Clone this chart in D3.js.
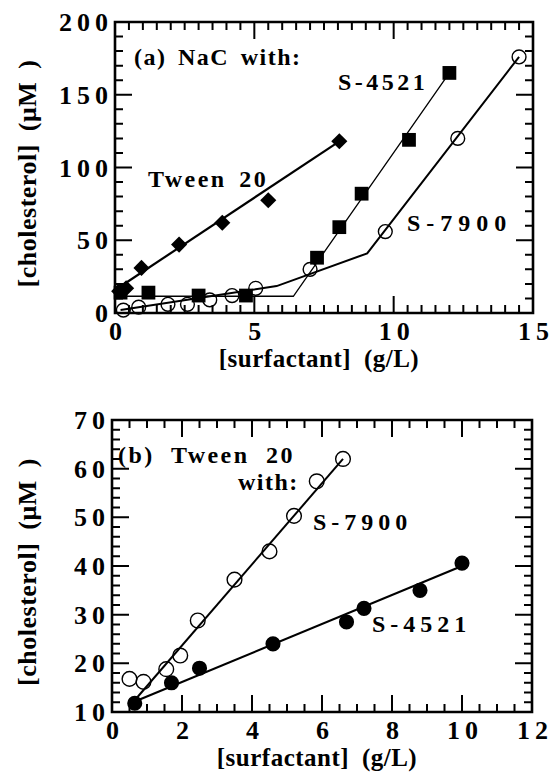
<!DOCTYPE html>
<html>
<head>
<meta charset="utf-8">
<script src="https://cdn.jsdelivr.net/npm/d3@7"></script>
<style>
  body { margin: 0; background: #fff; }
  svg text { font-family: "Liberation Serif", "DejaVu Serif", serif; font-weight: bold; fill: #000; }
</style>
</head>
<body>
<div class="figure"></div>
<script>
// panel (a): NaC with surfactants
var aTweenX = [0.15, 0.4, 0.95, 2.3, 3.85, 5.5, 8.05];
var aTweenY = [15, 17, 31, 47, 62, 77.5, 118];
var aS4521X = [0.2, 1.2, 3.0, 4.7, 7.25, 8.05, 8.85, 10.55, 12.0];
var aS4521Y = [14, 14, 12, 12, 38, 59, 82, 119, 165];
var aS7900X = [0.3, 0.85, 1.9, 2.6, 3.4, 4.2, 5.05, 7.0, 9.7, 12.3, 14.5];
var aS7900Y = [2, 4, 6, 6, 9, 12, 17, 30, 56, 120, 176];
// fitted lines panel (a)
var aTweenFitX = [0.1, 8.05];
var aTweenFitY = [17, 118];
var aS4521FitX = [0.1, 6.4, 12.0];
var aS4521FitY = [11.5, 11.5, 165];
var aS7900FitX = [0.2, 5.8, 9.05, 14.5];
var aS7900FitY = [2, 18.5, 41, 176];
var aXTicks = [0, 5, 10, 15];
var aYTicks = [0, 50, 100, 150, 200];

// panel (b): Tween 20 with surfactants
var bS7900X = [0.5, 0.9, 1.55, 1.95, 2.45, 3.5, 4.5, 5.2, 5.85, 6.6];
var bS7900Y = [16.8, 16.2, 18.8, 21.6, 28.8, 37.2, 43, 50.3, 57.4, 62];
var bS4521X = [0.65, 1.7, 2.5, 4.6, 6.7, 7.2, 8.8, 10];
var bS4521Y = [11.8, 16, 19, 24, 28.5, 31.3, 35, 40.6];
var bS7900FitX = [0.6, 6.6];
var bS7900FitY = [12, 62];
var bS4521FitX = [0.6, 10];
var bS4521FitY = [12, 40];
var bXTicks = [0, 2, 4, 6, 8, 10, 12];
var bYTicks = [10, 20, 30, 40, 50, 60, 70];

var svgWidth = 556;
var svgHeight = 777;

var svg = d3.select(".figure")
  .append("svg")
  .attr("width", svgWidth)
  .attr("height", svgHeight);

function zip(xs, ys) {
  return xs.map((x, i) => [x, ys[i]]);
}

// draws frame + inward ticks (one path), tick labels and titles
function drawPanel(p) {
  var x = d3.scaleLinear().domain(p.xDomain).range([p.left, p.right]);
  var y = d3.scaleLinear().domain(p.yDomain).range([p.bottom, p.top]);
  var g = svg.append("g");

  var majLen = 17, minLen = 8;
  var xMinor = d3.range(p.xDomain[0], p.xDomain[1] + 1e-9, p.xMinor);
  var yMinor = d3.range(p.yDomain[0], p.yDomain[1] + 1e-9, p.yMinor);

  var path = d3.path();
  function xt(vals, len) {
    vals.forEach(function (v) {
      var px = x(v);
      path.moveTo(px, p.bottom); path.lineTo(px, p.bottom - len);
      path.moveTo(px, p.top); path.lineTo(px, p.top + len);
    });
  }
  function yt(vals, len) {
    vals.forEach(function (v) {
      var py = y(v);
      path.moveTo(p.left, py); path.lineTo(p.left + len, py);
      path.moveTo(p.right, py); path.lineTo(p.right - len, py);
    });
  }
  xt(xMinor, minLen); xt(p.xTicks, majLen);
  yt(yMinor, minLen); yt(p.yTicks, majLen);

  g.append("path")
    .attr("d", path.toString())
    .attr("fill", "none")
    .attr("stroke", "#000")
    .attr("stroke-width", 2);

  g.append("path")
    .attr("d", `M${p.left},${p.top}L${p.right},${p.top}L${p.right},${p.bottom}L${p.left},${p.bottom}Z`)
    .attr("fill", "none")
    .attr("stroke", "#000")
    .attr("stroke-width", 2.6);

  // tick labels
  g.selectAll(".xlab").data(p.xTicks).enter().append("text")
    .attr("x", d => x(d) + 3)
    .attr("y", p.bottom + 27)
    .attr("text-anchor", "middle")
    .style("font-size", "26px")
    .style("letter-spacing", "5px")
    .text(d => d);
  g.selectAll(".ylab").data(p.yTicks).enter().append("text")
    .attr("x", p.left - 2)
    .attr("y", d => y(d) + 9)
    .attr("text-anchor", "end")
    .style("font-size", "26px")
    .style("letter-spacing", "5px")
    .text(d => d);

  g.append("text")
    .attr("x", (p.left + p.right) / 2 - 5)
    .attr("y", p.bottom + 54)
    .attr("text-anchor", "middle")
    .style("font-size", "25px")
    .style("letter-spacing", "0.5px")
    .style("word-spacing", "6px")
    .text("[surfactant]  (g/L)");
  g.append("text")
    .attr("transform", `translate(36,${(p.top + p.bottom) / 2 + 6}) rotate(-90)`)
    .attr("text-anchor", "middle")
    .style("font-size", "26px")
    .style("letter-spacing", "0.5px")
    .style("word-spacing", "6px")
    .text("[cholesterol]  (\u03bcM )");

  return { x: x, y: y, g: g };
}

function drawLine(panel, xs, ys, width) {
  panel.g.append("path")
    .datum(zip(xs, ys))
    .attr("fill", "none")
    .attr("stroke", "#000")
    .attr("stroke-width", width)
    .attr("d", d3.line().x(d => panel.x(d[0])).y(d => panel.y(d[1])));
}

function drawMarks(panel, xs, ys, shape, filled, size, rot) {
  var sym = d3.symbol().type(shape).size(size);
  panel.g.append("g").selectAll("path")
    .data(zip(xs, ys))
    .enter()
    .append("path")
    .attr("transform", d => `translate(${panel.x(d[0])},${panel.y(d[1])}) rotate(${rot || 0})`)
    .attr("d", sym)
    .attr("fill", filled ? "#000" : "none")
    .attr("stroke", "#000")
    .attr("stroke-width", filled ? 0 : 1.4);
}

function label(panel, text, x, y, ls, ws) {
  panel.g.append("text")
    .attr("x", x).attr("y", y)
    .style("font-size", "24px")
    .style("word-spacing", (ws || 4) + "px")
    .style("letter-spacing", (ls || 1) + "px")
    .text(text);
}

// ---- panel (a) ----
var pa = drawPanel({
  left: 115, right: 533, top: 22, bottom: 313,
  xDomain: [0, 15], yDomain: [0, 200],
  xTicks: aXTicks, yTicks: aYTicks, xMinor: 0.5, yMinor: 10
});

drawLine(pa, aTweenFitX, aTweenFitY, 2.2);
drawLine(pa, aS4521FitX, aS4521FitY, 1.3);
drawLine(pa, aS7900FitX, aS7900FitY, 2);

drawMarks(pa, aS7900X, aS7900Y, d3.symbolCircle, false, 150);
drawMarks(pa, aS4521X, aS4521Y, d3.symbolSquare, true, 190);
drawMarks(pa, aTweenX, aTweenY, d3.symbolSquare, true, 130, 45);

label(pa, "(a)  NaC  with:", 134, 65, 1.5);
label(pa, "S-4521", 338, 90, 3.5);
label(pa, "Tween  20", 148, 187, 2.5);
label(pa, "S-7900", 407, 231, 6);

// ---- panel (b) ----
var pb = drawPanel({
  left: 112, right: 532, top: 420, bottom: 712,
  xDomain: [0, 12], yDomain: [10, 70],
  xTicks: bXTicks, yTicks: bYTicks, xMinor: 0.5, yMinor: 2
});

drawLine(pb, bS7900FitX, bS7900FitY, 2);
drawLine(pb, bS4521FitX, bS4521FitY, 2.2);

drawMarks(pb, bS7900X, bS7900Y, d3.symbolCircle, false, 170);
drawMarks(pb, bS4521X, bS4521Y, d3.symbolCircle, true, 180);

label(pb, "(b)  Tween  20", 118, 463, 2.5, 8);
label(pb, "with:", 238, 490, 1.5);
label(pb, "S-7900", 313, 530, 5);
label(pb, "S-4521", 372, 632, 5);
</script>
</body>
</html>
